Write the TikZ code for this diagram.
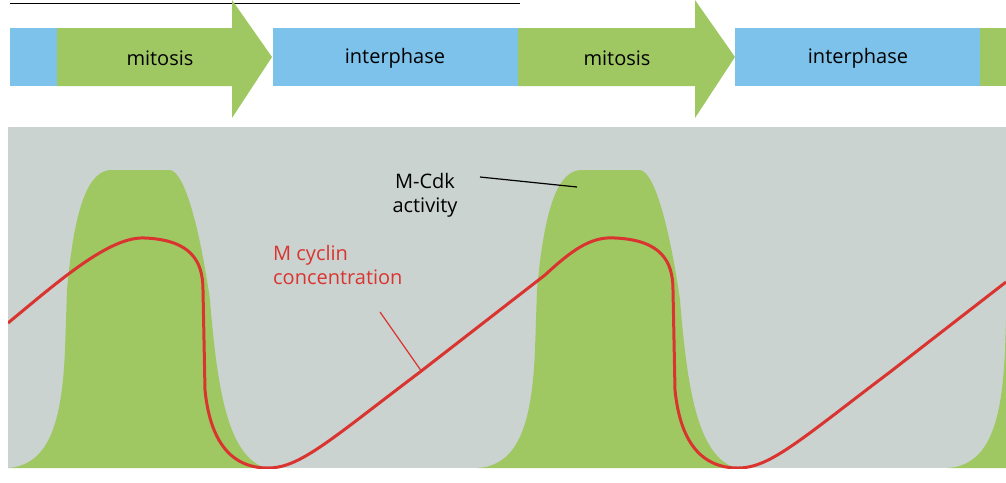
\documentclass[tikz,border=0pt]{standalone}
\usepackage{fontspec}
\setmainfont{Open Sans}
\definecolor{cblue}{RGB}{125,194,234}
\definecolor{cgreen}{RGB}{160,200,98}
\definecolor{cgray}{RGB}{202,211,208}
\definecolor{cred}{RGB}{218,52,48}
\begin{document}
\begin{tikzpicture}[x=1pt,y=-1pt,
  lab/.style={font=\fontsize{20}{24}\selectfont,inner sep=0pt}]
\useasboundingbox (0,0) rectangle (1006,482);
\draw[line width=1pt] (10,3) -- (520,3);
% top bar
\fill[cblue] (10,28) rectangle (57,86);
\fill[cgreen] (57,28) -- (232,28) -- (232,0) -- (272,57) -- (232,118) -- (232,86) -- (57,86) -- cycle;
\fill[cblue] (273,28) rectangle (518,86);
\fill[cgreen] (518,28) -- (695,28) -- (695,0) -- (735,57) -- (695,118) -- (695,86) -- (518,86) -- cycle;
\fill[cblue] (735,28) rectangle (980,86);
\fill[cgreen] (980,28) rectangle (1006,86);
\node[lab] (m1) at (160,58) {mitosis};
\node[lab] (i1) at (395,58) {interphase};
\node[lab] (m2) at (617,58) {mitosis};
\node[lab] (i2) at (858,58) {interphase};
% panel
\fill[cgray] (8,127) rectangle (1006,468);
\begin{scope}
\clip (8,127) rectangle (1006,468);
\foreach \s in {0,470,940}{
\fill[cgreen,xshift=\s] (8,468) .. controls (50,465) and (62,420) .. (65,350) -- (67,290) .. controls (75,200) and (90,172) .. (110,170) -- (170,170) .. controls (185,172) and (200,230) .. (210,300) .. controls (218,400) and (230,455) .. (265,468) -- cycle;
}
\draw[cred,line width=3pt] (8,323) .. controls (60,280) and (110,236) .. (145,238) .. controls (190,240) and (203,260) .. (203,290) -- (205,390) .. controls (210,440) and (230,468) .. (268,468) .. controls (300,468) and (330,440) .. (420,372) -- (545,275) .. controls (570,252) and (590,236) .. (615,238) .. controls (660,240) and (673,260) .. (673,290) -- (675,390) .. controls (680,440) and (700,468) .. (738,468) .. controls (770,468) and (800,440) .. (890,372) -- (1006,282);
\end{scope}
\node[lab,align=center] (mcdk) at (425,195) {M-Cdk\\activity};
\coordinate (mcdkend) at (577,187);
\draw[line width=1.2pt] (480,177) -- (mcdkend);
\node[lab,align=left,text=cred,anchor=north west] (mcyc) at (273,245) {M cyclin\\concentration};
\coordinate (mcycend) at (422,372);
\draw[cred,line width=1.2pt] (380,312) -- (mcycend);
\end{tikzpicture}
\end{document}
